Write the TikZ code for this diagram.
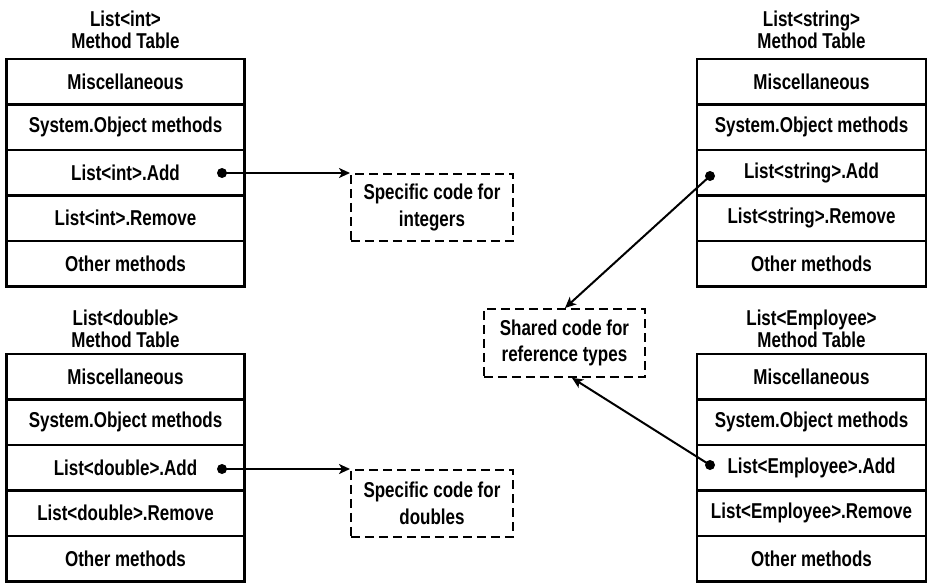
\documentclass[tikz,border=0pt]{standalone}
\usepackage{fontspec}
\setmainfont[FakeStretch=0.79]{Liberation Sans}
\usetikzlibrary{arrows.meta,calc}
\newcommand{\methodtable}[7]{% #1 name, #2 cx, #3 width, #4 top, #5 title y, #6 type, #7 add/remove prefix
  \node[mtitle] (#1t) at (#2,#5) {#6\\Method Table};
  \node[mrow,minimum width=#3] (#1a) at (#2,#4+22.75) {Miscellaneous};
  \node[mrow,minimum width=#3] (#1b) at (#2,#4+68.25) {System.Object methods};
  \node[mrow,minimum width=#3] (#1c) at (#2,#4+113.75) {#7.Add};
  \node[mrow,minimum width=#3] (#1d) at (#2,#4+159.25) {#7.Remove};
  \node[mrow,minimum width=#3] (#1e) at (#2,#4+204.75) {Other methods};
}
\begin{document}
\begin{tikzpicture}[x=1pt,y=-1pt,
  mrow/.style={draw,line width=2.2pt,minimum height=45.5pt,inner sep=0pt,
    font=\fontsize{21.5}{22.5}\selectfont\bfseries},
  mtitle/.style={align=center,inner sep=0pt,font=\fontsize{21.5}{22.5}\selectfont\bfseries},
  dbox/.style={draw,line width=1.9pt,dash pattern=on 9pt off 5pt,align=center,
    inner sep=0pt,font=\fontsize{21.5}{26.5}\selectfont\bfseries,anchor=north west},
  arr/.style={line width=2pt,-{Stealth[length=11pt,width=10pt,inset=3pt]}},
  dot/.style={fill=black}]
\useasboundingbox (0,0) rectangle (934,583);

\methodtable{ti}{125.5}{238}{59}{30}{List<int>}{List<int>}
\methodtable{td}{125.5}{238}{354}{329}{List<double>}{List<double>}
\methodtable{ts}{811.5}{229}{59}{30}{List<string>}{List<string>}
\methodtable{te}{811.5}{229}{354}{329}{List<Employee>}{List<Employee>}

\node[dbox,minimum width=162pt,minimum height=67pt] (specInt) at (350,173) {Specific code for\\integers};
\node[dbox,minimum width=162pt,minimum height=67pt] (specDbl) at (350,469) {Specific code for\\doubles};
\node[dbox,minimum width=161pt,minimum height=68pt] (shared) at (483,308) {Shared code for\\reference types};

\coordinate (dInt) at (222,173);
\coordinate (dDbl) at (222,469);
\coordinate (dStr) at (710,176);
\coordinate (dEmp) at (710,465);
\coordinate (sIn1) at ($(shared.north west)+(82,0)$);
\coordinate (sIn2) at ($(shared.south west)+(89,0)$);

\draw[arr] (dInt) -- (specInt.north west);
\draw[arr] (dDbl) -- (specDbl.north west);
\draw[arr] (dStr) -- (sIn1);
\draw[arr] (dEmp) -- (sIn2);

\foreach \d in {dInt,dDbl,dStr,dEmp} \fill[dot] (\d) circle[radius=5pt];
\end{tikzpicture}
\end{document}
